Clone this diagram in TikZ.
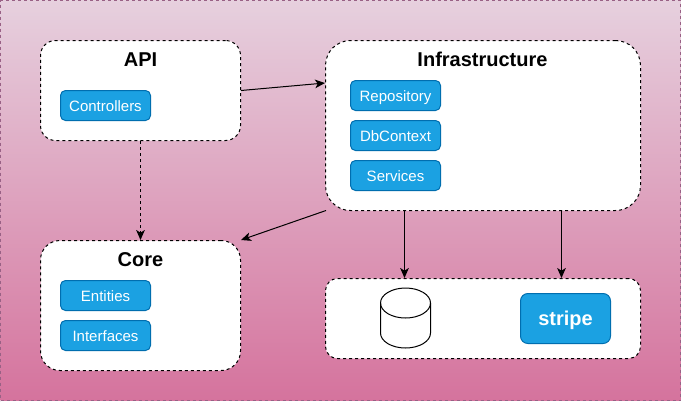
\documentclass[tikz,border=0pt]{standalone}
\usepackage{fontspec}
\setmainfont{Liberation Sans}
\usetikzlibrary{arrows.meta}
\definecolor{bgtop}{HTML}{E6D0DE}
\definecolor{bgbottom}{HTML}{D5739D}
\definecolor{bgline}{HTML}{996185}
\definecolor{boxfill}{HTML}{1BA1E2}
\definecolor{boxline}{HTML}{006EAF}
\tikzset{
  panel/.style={draw=black,fill=white,line width=0.75pt,dash pattern=on 2.25pt off 2.25pt,rectangle},
  title/.style={font=\bfseries\fontsize{15}{18}\selectfont,inner sep=0pt,text height=11pt,text depth=2pt},
  item/.style={draw=boxline,fill=boxfill,text=white,line width=0.75pt,rounded corners=3.75pt,minimum width=67.5pt,minimum height=22.5pt,inner sep=0pt,font=\fontsize{11.25}{13}\selectfont,text height=9.4pt,text depth=1pt},
  link/.style={-{Stealth[length=7.5pt,width=6.5pt,inset=2pt]},line width=0.75pt},
}
\begin{document}
\begin{tikzpicture}[x=0.75pt,y=-0.75pt]
\useasboundingbox (0,0) rectangle (681,401);
\node[draw=bgline,top color=bgtop,bottom color=bgbottom,line width=0.75pt,dash pattern=on 2.25pt off 2.25pt,minimum width=510pt,minimum height=300pt,inner sep=0pt] (back) at (340.5,200.5) {};

\node[panel,rounded corners=11.25pt,minimum width=150pt,minimum height=75pt] (api) at (140.5,90.5) {};
\node[panel,rounded corners=18.75pt,minimum width=236.25pt,minimum height=127.5pt] (infra) at (483,125.5) {};
\node[panel,rounded corners=14.6pt,minimum width=150pt,minimum height=97.5pt] (core) at (140.5,305.5) {};
\node[panel,rounded corners=9pt,minimum width=236.25pt,minimum height=60pt] (store) at (483,318.5) {};

\node[title] (apititle) at (140.5,60) {API};
\node[title] (infratitle) at (482.5,60) {Infrastructure};
\node[title] (coretitle) at (140.5,260) {Core};

\node[item] (controllers) at (105.5,105.5) {Controllers};
\node[item] (repository) at (395.5,95.5) {Repository};
\node[item] (dbcontext) at (395.5,135.5) {DbContext};
\node[item] (services) at (395.5,175.5) {Services};
\node[item] (entities) at (105.5,295.5) {Entities};
\node[item] (interfaces) at (105.5,335.5) {Interfaces};
\node[item,rounded corners=5.6pt,minimum height=37.5pt,text height=12.8pt,text depth=2pt,font=\bfseries\fontsize{15}{18}\selectfont] (stripe) at (565.5,318.5) {stripe};

\draw[line width=0.75pt,fill=white] (380.5,303) arc[x radius=25,y radius=15,start angle=180,end angle=360]
  -- (430.5,333) arc[x radius=25,y radius=15,start angle=0,end angle=180] -- cycle;
\draw[line width=0.75pt] (380.5,303) arc[x radius=25,y radius=15,start angle=180,end angle=0];

\coordinate (infrain) at (325,83);
\coordinate (dbout) at (404.5,210.5);
\coordinate (dbin) at (404.5,278);
\coordinate (stripeout) at (561.5,210.5);
\coordinate (stripein) at (561.5,278);
\coordinate (infraout) at (326,210.5);
\coordinate (corein) at (241,240);

\draw[link] (api.east) -- (infrain);
\draw[link,dash pattern=on 2.25pt off 2.25pt] (api.south) -- (core.north);
\draw[link] (infraout) -- (corein);
\draw[link] (dbout) -- (dbin);
\draw[link] (stripeout) -- (stripein);
\end{tikzpicture}
\end{document}
